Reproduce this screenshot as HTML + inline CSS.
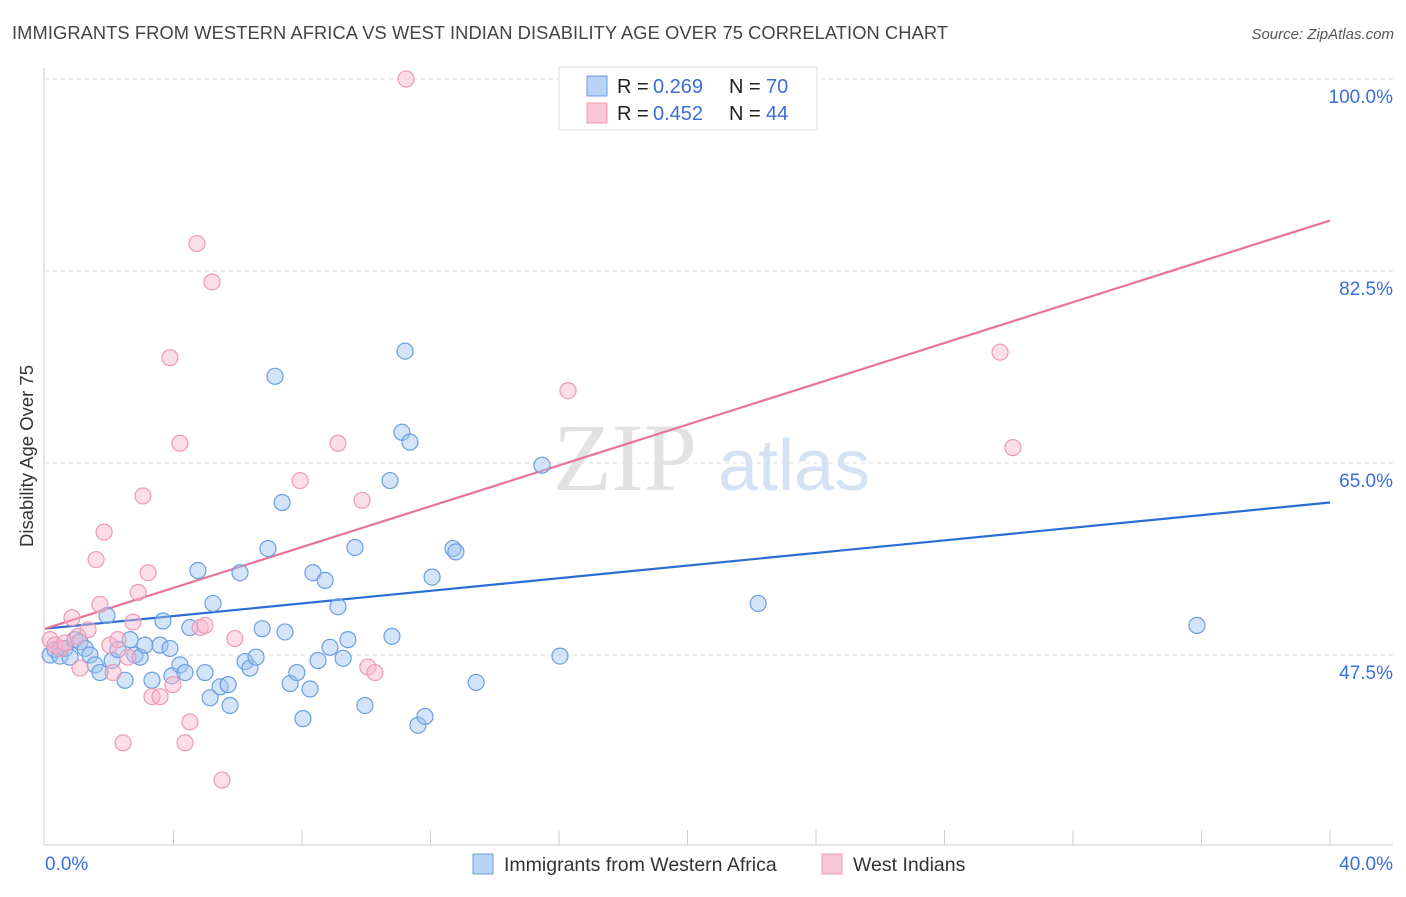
<!DOCTYPE html>
<html><head><meta charset="utf-8"><style>
body{margin:0;background:#fff;font-family:"Liberation Sans",sans-serif}
</style></head><body>
<svg id="chart" width="1406" height="892" xmlns="http://www.w3.org/2000/svg">
<text x="12" y="39" font-size="18.3" fill="#444" textLength="936">IMMIGRANTS FROM WESTERN AFRICA VS WEST INDIAN DISABILITY AGE OVER 75 CORRELATION CHART</text>
<text x="1394" y="39" font-size="15" fill="#555" font-style="italic" text-anchor="end">Source: ZipAtlas.com</text>
<text transform="translate(33,456) rotate(-90)" font-size="18.5" fill="#333" text-anchor="middle">Disability Age Over 75</text>
<g>
<text x="553" y="490" font-size="96" fill="#e2e2e2" font-family="Liberation Serif,serif">ZIP</text>
<text x="718" y="490" font-size="72" fill="#d5e2f5">atlas</text>
</g>
<g id="grid"></g><g id="axes"></g><g id="lines"></g><g id="pts"></g>
<g>
<rect x="559" y="67" width="258" height="63" fill="#fff" stroke="#ddd"/>
<rect x="587" y="76" width="20" height="20" fill="#b8d3f5" stroke="#6a9ee0"/>
<rect x="587" y="103" width="20" height="20" fill="#f9c8d8" stroke="#ee9ab4"/>
<g font-size="20">
<text x="617" y="93" fill="#222">R =</text><text x="653" y="93" fill="#3b6fd4">0.269</text>
<text x="729" y="93" fill="#222">N =</text><text x="766" y="93" fill="#3b6fd4">70</text></g>
<g font-size="20">
<text x="617" y="120" fill="#222">R =</text><text x="653" y="120" fill="#3b6fd4">0.452</text>
<text x="729" y="120" fill="#222">N =</text><text x="766" y="120" fill="#3b6fd4">44</text></g>
</g>
<g>
<rect x="473" y="854" width="20" height="20" fill="#b8d3f5" stroke="#6a9ee0"/>
<text x="504" y="871" font-size="19.5" fill="#333">Immigrants from Western Africa</text>
<rect x="822" y="854" width="20" height="20" fill="#f9c8d8" stroke="#ee9ab4"/>
<text x="853" y="871" font-size="19.5" fill="#333">West Indians</text>
</g>
</svg>
<script>
const yTicks=[100,82.5,65,47.5];
const xTickLabels=["0.0%","40.0%"];
const blueX=[.16,.31,.47,.62,.78,.93,1.09,1.25,1.40,1.56,1.71,1.93,2.09,2.27,2.49,2.65,2.80,2.96,3.11,3.33,3.58,3.67,3.89,3.95,4.20,4.36,4.51,4.76,4.98,5.14,5.23,5.45,5.70,5.76,6.07,6.23,6.38,6.57,6.76,6.94,7.16,7.38,7.47,7.63,7.84,8.03,8.25,8.34,8.50,8.72,8.87,9.12,9.28,9.43,9.65,9.96,10.74,10.80,11.11,11.21,11.36,11.61,11.83,12.05,12.70,12.79,13.42,15.47,16.03,22.20,35.86];
const blueY=[47.5,48.0,47.4,48.1,47.3,48.9,48.7,48.1,47.5,46.6,45.9,51.1,47.0,48.0,45.2,48.9,47.5,47.3,48.4,45.2,48.4,50.6,48.1,45.6,46.6,45.9,50.0,55.2,45.9,43.6,52.2,44.6,44.8,42.9,55.0,46.9,46.3,47.3,49.9,57.2,72.9,61.4,49.6,44.9,45.9,41.7,44.4,55.0,47.0,54.3,48.2,51.9,47.2,48.9,57.3,42.9,63.4,49.2,67.8,75.2,66.9,41.1,41.9,54.6,57.2,56.9,45.0,64.8,47.4,52.2,50.2];
const pinkX=[.16,.31,.47,.62,.84,1.03,1.09,1.34,1.59,1.71,1.84,2.02,2.12,2.27,2.43,2.58,2.74,2.90,3.05,3.21,3.33,3.58,3.89,3.98,4.20,4.36,4.51,4.73,4.83,4.98,5.20,5.51,5.91,7.94,9.12,9.87,10.05,10.27,11.24,16.28,29.73,30.13];
const pinkY=[48.9,48.4,48.1,48.6,50.9,49.2,46.3,49.8,56.2,52.1,58.7,48.4,45.9,48.9,39.5,47.3,50.5,53.2,62.0,55.0,43.7,43.7,74.6,44.8,66.8,39.5,41.4,85.0,50.0,50.2,81.5,36.1,49.0,63.4,66.8,61.6,46.4,45.9,100,71.6,75.1,66.4];
const blueTrend=[49.9,61.4];
const pinkTrend=[49.9,87.1];
const NS="http://www.w3.org/2000/svg";
const xs=v=>45+v/40*1285;
const ys=v=>79+(100-v)*192/17.5;
function mk(tag,attrs,parent){const e=document.createElementNS(NS,tag);for(const k in attrs)e.setAttribute(k,attrs[k]);document.getElementById(parent).appendChild(e);return e;}
yTicks.forEach(t=>{
 const g=mk('line',{x1:45,x2:1393,y1:ys(t),y2:ys(t),stroke:'#ddd','stroke-dasharray':'4,4'},'grid');
 
 
 const l=mk('text',{x:1393,y:ys(t)+24,'font-size':19,fill:'#3b6fd4','text-anchor':'end'},'grid');
 l.textContent=t.toFixed(1)+'%';
 
 
});
const ax=mk('line',{x1:44,x2:44,y1:68,y2:845,stroke:'#ccc'},'axes');


const bx=mk('line',{x1:44,x2:1393,y1:845,y2:845,stroke:'#ccc'},'axes');


for(let i=1;i<=10;i++){const t=mk('line',{x1:xs(i*4),x2:xs(i*4),y1:830,y2:845,stroke:'#ccc'},'axes');
 
 }
const xl0=mk('text',{x:45,y:870,'font-size':19,fill:'#3b6fd4'},'axes');xl0.textContent=xTickLabels[0];


const xl1=mk('text',{x:1393,y:870,'font-size':19,fill:'#3b6fd4','text-anchor':'end'},'axes');xl1.textContent=xTickLabels[1];


function pts(X,Y,fill,stroke,name){X.forEach((x,i)=>{const c=mk('circle',{cx:xs(x),cy:ys(Y[i]),r:8,fill:fill,stroke:stroke,'stroke-width':1.2},'pts');
 
 });}
pts(blueX,blueY,'rgba(160,195,240,0.45)','#6a9ee0','point-western-africa');
pts(pinkX,pinkY,'rgba(248,180,204,0.45)','#ee9ab4','point-west-indians');
const bl=mk('line',{x1:xs(0),x2:xs(40),y1:ys(blueTrend[0]),y2:ys(blueTrend[1]),stroke:'#2a6dd4','stroke-width':2.2},'lines');


const pl=mk('line',{x1:xs(0),x2:xs(40),y1:ys(pinkTrend[0]),y2:ys(pinkTrend[1]),stroke:'#e8739a','stroke-width':2.2},'lines');


</script>
</body></html>
